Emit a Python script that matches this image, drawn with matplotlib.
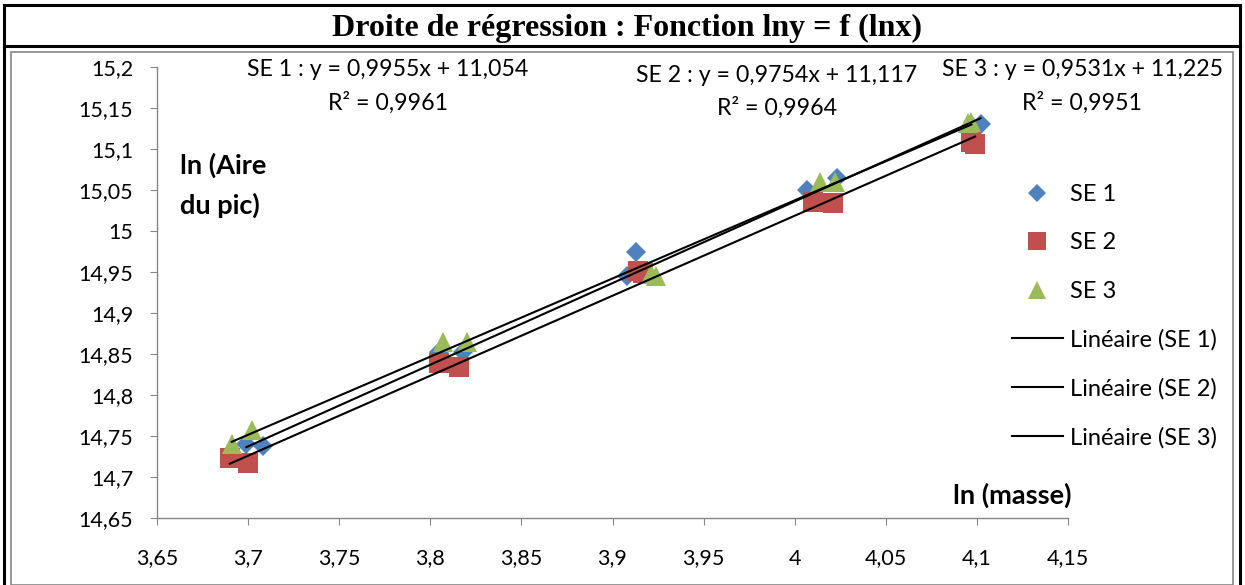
import matplotlib
matplotlib.use('Agg')
import matplotlib.pyplot as plt
import numpy as np
from matplotlib.lines import Line2D
from matplotlib.patches import Rectangle
from matplotlib.ticker import FuncFormatter, MultipleLocator

# ln(masse) / ln(aire du pic)
se1_x = [3.699, 3.708, 3.805, 3.818, 3.908, 3.913, 4.007, 4.023, 4.098, 4.102]
se1_y = [14.740, 14.738, 14.852, 14.852, 14.945, 14.974, 15.050, 15.065, 15.127, 15.131]
se2_x = [3.690, 3.700, 3.805, 3.816, 3.914, 3.917, 4.010, 4.021, 4.097, 4.099]
se2_y = [14.723, 14.717, 14.839, 14.834, 14.951, 14.949, 15.035, 15.034, 15.108, 15.106]
se3_x = [3.691, 3.702, 3.807, 3.820, 3.921, 3.924, 4.014, 4.022, 4.095, 4.097]
se3_y = [14.740, 14.757, 14.865, 14.865, 14.948, 14.945, 15.060, 15.060, 15.132, 15.133]

series_names = ['SE 1', 'SE 2', 'SE 3']
# trend line coefficients printed on the chart
slopes = [0.9955, 0.9754, 0.9531]
intercepts = [11.054, 11.117, 11.225]
r2 = [0.9961, 0.9964, 0.9951]

W, H = 1245, 585
fig = plt.figure(figsize=(W / 100, H / 100), dpi=100)
plt.rcParams['font.family'] = ['Lato', 'DejaVu Sans']


def fx(px):
    return px / W


def fy(py):
    return 1 - py / H


ax = fig.add_axes([fx(157), fy(518), fx(1068) - fx(157), fy(67) - fy(518)])

colors = ['#4F81BD', '#C0504D', '#9BBB59']
markers = ['D', 's', '^']
sizes = [10, 14, 15]
leg_sizes = [9.3, 12.5, 13]
xs_all = [se1_x, se2_x, se3_x]
ys_all = [se1_y, se2_y, se3_y]

for i in range(3):
    ax.plot(xs_all[i], ys_all[i], markers[i], color=colors[i],
            markersize=sizes[i], markeredgewidth=0, label=series_names[i], zorder=2 + i)

ln_handles = []
for i in range(3):
    xx = np.array([min(xs_all[i]), max(xs_all[i])])
    h, = ax.plot(xx, slopes[i] * xx + intercepts[i], color='black', lw=1.5,
                 label='Linéaire (' + series_names[i] + ')', zorder=6)
    ln_handles.append(h)

ax.set_xlim(3.65, 4.15)
ax.set_ylim(14.65, 15.2)
ax.xaxis.set_major_locator(MultipleLocator(0.05))
ax.yaxis.set_major_locator(MultipleLocator(0.05))
fmt = FuncFormatter(lambda v, p: ('%.2f' % v).rstrip('0').rstrip('.').replace('.', ','))
ax.xaxis.set_major_formatter(fmt)
ax.yaxis.set_major_formatter(fmt)
ax.tick_params(axis='x', direction='out', length=5, color='#868686', labelsize=15.5, pad=17)
ax.tick_params(axis='y', direction='out', length=5, color='#868686', labelsize=15.5, pad=12)
for s in ['top', 'right']:
    ax.spines[s].set_visible(False)
for s in ['left', 'bottom']:
    ax.spines[s].set_color('#868686')
    ax.spines[s].set_linewidth(1)
ax.patch.set_alpha(0)

# legend markers are drawn a bit smaller than on the plot
leg_pts = [Line2D([], [], ls='none', marker=markers[i], color=colors[i],
                  markersize=leg_sizes[i], markeredgewidth=0, label=series_names[i]) for i in range(3)]
leg = fig.legend(handles=leg_pts + ln_handles, loc='upper left',
                 bbox_to_anchor=(fx(1012), fy(184)), frameon=False, fontsize=17,
                 labelspacing=1.16, handlelength=2.15, handletextpad=0.3,
                 borderpad=0, borderaxespad=0)

# equations of the trend lines
eq_pos = [(388, 70), (777, 75), (1082, 70)]
for i in range(3):
    cx, cy = eq_pos[i]
    eq = '%s : y = %sx + %s' % (series_names[i], ('%.4f' % slopes[i]).replace('.', ','),
                                ('%.3f' % intercepts[i]).replace('.', ','))
    fig.text(fx(cx), fy(cy), eq, ha='center', va='center', fontsize=16.7)
    fig.text(fx(cx), fy(cy + 33), 'R² = ' + ('%.4f' % r2[i]).replace('.', ','),
             ha='center', va='center', fontsize=16.7)

fig.text(fx(180), fy(165), 'ln (Aire', ha='left', va='center', fontsize=19.5, fontweight='bold')
fig.text(fx(180), fy(205), 'du pic)', ha='left', va='center', fontsize=19.5, fontweight='bold')
fig.text(fx(1012), fy(495), 'ln (masse)', ha='center', va='center', fontsize=19.5, fontweight='bold')

# title band and frames
fig.text(fx(627), fy(28), 'Droite de régression : Fonction lny = f (lnx)', ha='center', va='center',
         fontsize=23, fontweight='bold', family='Liberation Serif')
fig.add_artist(Rectangle((fx(11), 0), fx(1233) - fx(11), fy(52), fill=False,
                         edgecolor='#868686', lw=1.2, transform=fig.transFigure))
fig.add_artist(Line2D([fx(4), fx(1240)], [fy(5), fy(5)], color='black', lw=2.2, transform=fig.transFigure))
fig.add_artist(Line2D([fx(4), fx(1240)], [fy(46), fy(46)], color='black', lw=2.2, transform=fig.transFigure))
fig.add_artist(Line2D([fx(4), fx(4)], [fy(5), 0], color='black', lw=2.2, transform=fig.transFigure))
fig.add_artist(Line2D([fx(1240), fx(1240)], [fy(5), 0], color='black', lw=2.2, transform=fig.transFigure))

fig.savefig('out.png', dpi=100)
